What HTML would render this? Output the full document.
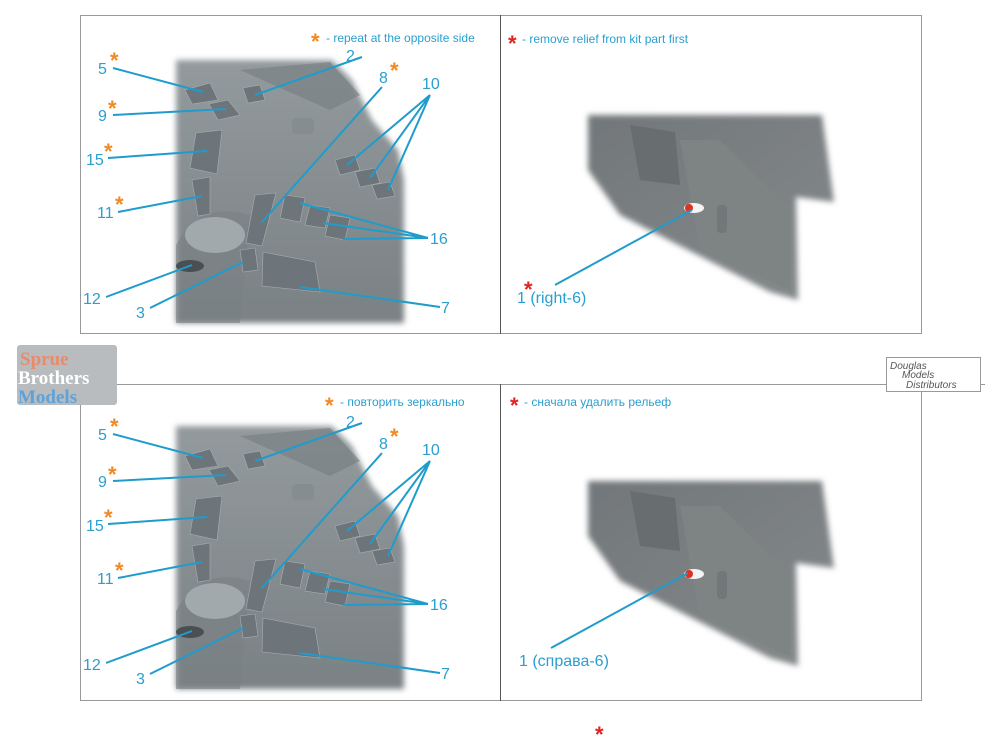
<!DOCTYPE html>
<html><head><meta charset="utf-8"><style>
html,body{margin:0;padding:0;background:#fff;}
svg{display:block;}
text{font-family:"Liberation Sans","Noto Sans CJK SC",sans-serif;}
.l{fill:#2a9fd0;font-size:16px;}
.h{fill:#2a9fd0;font-size:12px;}
.o{fill:#f08a24;font-size:22px;font-weight:bold;}
.r{fill:#e02424;font-size:22px;font-weight:bold;}
.ln{stroke:#1f9ccc;stroke-width:2;fill:none;}
</style></head><body>
<svg width="1000" height="750" viewBox="0 0 1000 750" xmlns="http://www.w3.org/2000/svg">
<defs>
<filter id="b" x="-10%" y="-10%" width="120%" height="120%"><feGaussianBlur stdDeviation="3"/></filter>
<linearGradient id="g1" x1="0" y1="0" x2="0" y2="1"><stop offset="0" stop-color="#939a9d"/><stop offset="1" stop-color="#7a8184"/></linearGradient>
<linearGradient id="g2" x1="0" y1="0" x2="1" y2="1"><stop offset="0" stop-color="#72777a"/><stop offset="1" stop-color="#85898a"/></linearGradient>
<g id="photoL">
<path d="M176,60 L332,60 L352,80 L372,120 L398,150 L404,180 L404,323 L176,323 Z" fill="url(#g1)" filter="url(#b)"/>
<path d="M240,70 L330,62 L360,95 L330,110 Z" fill="#747d81" opacity="0.6"/>
<path d="M176,245 Q200,200 250,215 L240,323 L176,323 Z" fill="#7a8184" opacity="0.6"/>
<ellipse cx="215" cy="235" rx="30" ry="18" fill="#a2a9ac"/>
<ellipse cx="190" cy="266" rx="14" ry="6" fill="#4a5052"/>
<rect x="292" y="118" width="22" height="16" rx="4" fill="#858d90"/>
<g fill="#6d757a" stroke="#a8afb3" stroke-width="0.6">
<path d="M185,90 L210,83 L218,100 L192,104 Z"/>
<path d="M243,88 L260,85 L265,100 L248,103 Z"/>
<path d="M209,104 L228,100 L240,115 L218,120 Z"/>
<path d="M196,133 L222,130 L217,174 L190,168 Z"/>
<path d="M192,180 L210,177 L210,214 L198,216 Z"/>
<path d="M255,195 L276,193 L262,246 L246,243 Z"/>
<path d="M335,160 L355,155 L360,170 L340,175 Z"/>
<path d="M355,172 L375,168 L380,183 L360,187 Z"/>
<path d="M372,185 L390,182 L395,196 L377,199 Z"/>
<path d="M240,250 L255,248 L258,270 L243,272 Z"/>
<path d="M263,252 L315,262 L320,292 L262,286 Z"/>
<path d="M285,195 L305,198 L300,222 L280,218 Z"/>
<path d="M310,205 L330,208 L325,228 L305,225 Z"/>
<path d="M330,215 L350,218 L345,240 L325,236 Z"/>
</g>
</g>
<g id="photoR">
<path d="M588,115 L822,115 L834,202 L796,197 L798,300 L770,292 L620,215 L588,170 Z" fill="url(#g2)" filter="url(#b)"/>
<path d="M630,125 L675,132 L680,185 L640,180 Z" fill="#686e70"/>
<path d="M680,140 L720,140 L790,210 L790,290 L700,250 Z" fill="#7e8384"/>
<ellipse cx="694" cy="208" rx="10" ry="5" fill="#f4f4f4"/>
<circle cx="689" cy="208" r="4" fill="#e03020"/>
<rect x="717" y="205" width="10" height="28" rx="4" fill="#72777a"/>
</g>
</defs>

<rect x="80.5" y="15.5" width="841" height="318" fill="none" stroke="#999" stroke-width="1"/>
<line x1="500.5" y1="15" x2="500.5" y2="334" stroke="#555"/>
<rect x="80.5" y="384.5" width="841" height="316" fill="none" stroke="#999" stroke-width="1"/>
<line x1="500.5" y1="384" x2="500.5" y2="701" stroke="#555"/>
<line x1="921" y1="384.5" x2="985" y2="384.5" stroke="#999"/>

<use href="#photoL"/>
<use href="#photoR"/>
<use href="#photoL" transform="translate(0,366)"/>
<use href="#photoR" transform="translate(0,366)"/>

<g class="ln">
<path d="M113,68 L203,92"/><path d="M362,57 L255,95"/><path d="M113,115 L226,109"/>
<path d="M382,87 L262,222"/><path d="M430,95 L347,165 M430,95 L370,178 M430,95 L388,190"/>
<path d="M108,158 L207,151"/><path d="M118,212 L202,196"/>
<path d="M428,238 L300,203 M428,238 L323,223 M428,238 L343,239"/>
<path d="M106,297 L192,265"/><path d="M150,308 L243,262"/><path d="M440,307 L300,287"/>
<path d="M555,285 L692,210"/>
</g>
<g class="ln" transform="translate(0,366)">
<path d="M113,68 L203,92"/><path d="M362,57 L255,95"/><path d="M113,115 L226,109"/>
<path d="M382,87 L262,222"/><path d="M430,95 L347,165 M430,95 L370,178 M430,95 L388,190"/>
<path d="M108,158 L207,151"/><path d="M118,212 L202,196"/>
<path d="M428,238 L300,203 M428,238 L323,223 M428,238 L343,239"/>
<path d="M106,297 L192,265"/><path d="M150,308 L243,262"/><path d="M440,307 L300,287"/>
<path d="M551,282 L688,207"/>
</g>

<g>
<text class="o" x="311" y="49">*</text><text class="h" x="326" y="42">- repeat at the opposite side</text>
<text class="r" x="508" y="51">*</text><text class="h" x="522" y="43">- remove relief from kit part first</text>
<text class="l" x="98" y="74">5</text><text class="o" x="110" y="68">*</text>
<text class="l" x="346" y="61">2</text>
<text class="l" x="379" y="83">8</text><text class="o" x="390" y="78">*</text>
<text class="l" x="422" y="89">10</text>
<text class="l" x="98" y="121">9</text><text class="o" x="108" y="116">*</text>
<text class="l" x="86" y="165">15</text><text class="o" x="104" y="159">*</text>
<text class="l" x="97" y="218">11</text><text class="o" x="115" y="212">*</text>
<text class="l" x="430" y="244">16</text>
<text class="l" x="83" y="304">12</text>
<text class="l" x="136" y="318">3</text>
<text class="l" x="441" y="313">7</text>
<text class="l" x="517" y="303">1 (right-6)</text><text class="r" x="524" y="297">*</text>
</g>
<g transform="translate(0,366)">
<text class="o" x="325" y="47">*</text><text class="h" x="340" y="40">- повторить зеркально</text>
<text class="r" x="510" y="47">*</text><text class="h" x="524" y="40">- сначала удалить рельеф</text>
<text class="l" x="98" y="74">5</text><text class="o" x="110" y="68">*</text>
<text class="l" x="346" y="61">2</text>
<text class="l" x="379" y="83">8</text><text class="o" x="390" y="78">*</text>
<text class="l" x="422" y="89">10</text>
<text class="l" x="98" y="121">9</text><text class="o" x="108" y="116">*</text>
<text class="l" x="86" y="165">15</text><text class="o" x="104" y="159">*</text>
<text class="l" x="97" y="218">11</text><text class="o" x="115" y="212">*</text>
<text class="l" x="430" y="244">16</text>
<text class="l" x="83" y="304">12</text>
<text class="l" x="136" y="318">3</text>
<text class="l" x="441" y="313">7</text>
<text class="l" x="519" y="300">1 (справа-6)</text>
</g>
<text class="r" x="595" y="742">*</text>

<rect x="17" y="345" width="100" height="60" rx="3" fill="#b9bcbf"/>
<text x="20" y="365" style="font-family:'Liberation Serif',serif;font-weight:bold;font-size:19px" fill="#e98a6a">Sprue</text>
<text x="18" y="384" style="font-family:'Liberation Serif',serif;font-weight:bold;font-size:19px" fill="#ffffff">Brothers</text>
<text x="18" y="403" style="font-family:'Liberation Serif',serif;font-weight:bold;font-size:19px" fill="#5ea2d8">Models</text>
<rect x="886.5" y="357.5" width="94" height="34" fill="#fff" stroke="#999"/>
<text x="890" y="369" style="font-size:10px;font-style:italic" fill="#555">Douglas</text>
<text x="902" y="378" style="font-size:10px;font-style:italic" fill="#555">Models</text>
<text x="906" y="388" style="font-size:10px;font-style:italic" fill="#555">Distributors</text>
</svg>
</body></html>
